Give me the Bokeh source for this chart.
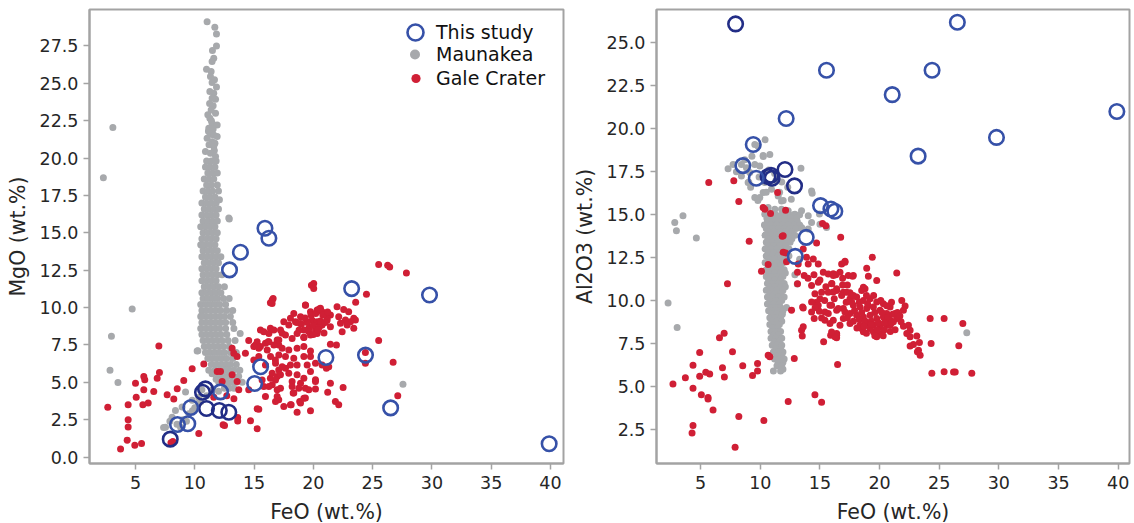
from bokeh.plotting import figure
from bokeh.layouts import row
from bokeh.models import (ColumnDataSource, Range1d, FixedTicker, PrintfTickFormatter,
                          Legend, LegendItem)
from bokeh.embed import file_html
from bokeh.resources import INLINE

# ---------------- data ----------------
x_ticks = [5, 10, 15, 20, 25, 30, 35, 40]
mgo_ticks = [0.0, 2.5, 5.0, 7.5, 10.0, 12.5, 15.0, 17.5, 20.0, 22.5, 25.0, 27.5]
al_ticks = [2.5, 5.0, 7.5, 10.0, 12.5, 15.0, 17.5, 20.0, 22.5, 25.0]

# This study: FeO, MgO, Al2O3 (wt.%) per sample
study_feo = [15.55, 7.93, 26.52, 24.40, 21.06, 39.89, 29.80, 23.23, 13.85, 12.93, 15.92,
             16.25, 15.05, 12.17, 12.07, 12.87, 10.90, 10.65, 10.99, 9.66, 8.54, 9.41]
study_mgo = [6.04, 1.20, 3.29, 6.82, 6.66, 0.89, 10.84, 11.27, 13.70, 12.52, 15.31,
             14.64, 4.92, 4.36, 3.12, 3.00, 4.56, 4.34, 3.25, 3.32, 2.18, 2.23]
study_al2o3 = [23.41, 26.11, 26.21, 23.41, 21.99, 21.01, 19.50, 18.41, 13.68, 12.57, 15.33,
               15.20, 15.53, 20.60, 17.63, 16.68, 17.30, 17.22, 17.12, 17.12, 17.86, 19.09]
study_tone = ["#3651a8", "#222d86", "#3651a8", "#3651a8", "#3651a8", "#3651a8", "#3651a8",
              "#3651a8", "#3651a8", "#3651a8", "#3651a8", "#3651a8", "#3651a8", "#3651a8",
              "#222d86", "#222d86", "#222d86", "#222d86", "#222d86", "#3651a8", "#3651a8",
              "#3651a8"]

# Maunakea: (FeO, MgO)
maunakea_feo_mgo = [
    (11.04, 29.12), (11.69, 28.75), (11.83, 28.3), (11.83, 27.5), (11.49, 27.2), (11.60, 26.68),
    (11.46, 26.46), (10.99, 25.95), (11.38, 25.8), (11.32, 25.46), (11.66, 25.24), (11.46, 25.05),
    (11.83, 24.75), (11.27, 24.45), (11.60, 24.34), (11.75, 23.94), (11.46, 24.0), (11.25, 23.65),
    (11.55, 23.5), (11.38, 23.22), (11.75, 23.0), (11.1, 22.9), (11.27, 22.66), (11.4, 22.5),
    (11.46, 22.33), (11.89, 22.22), (11.18, 22.0), (11.55, 21.95), (11.15, 21.8), (11.3, 21.6),
    (11.60, 21.55), (11.89, 21.44), (11.04, 21.33), (11.46, 21.1), (11.7, 21.0), (11.2, 20.9),
    (11.60, 20.77), (11.65, 20.5), (10.90, 20.44), (11.32, 20.33), (11.75, 20.1),
    (11.0, 19.8), (11.4, 19.8), (11.8, 19.8), (10.9, 19.4), (11.3, 19.4), (11.7, 19.4),
    (11.1, 19.0), (11.5, 19.0), (11.9, 19.0), (10.8, 18.6), (11.2, 18.6), (11.6, 18.6),
    (11.0, 18.2), (11.4, 18.2), (11.9, 18.2), (10.7, 17.8), (11.1, 17.8), (11.5, 17.8), (12.0, 17.8),
    (10.9, 17.4), (11.3, 17.4), (11.7, 17.4), (10.6, 17.0), (11.0, 17.0), (11.4, 17.0), (11.8, 17.0),
    (10.8, 16.6), (11.2, 16.6), (11.6, 16.6), (12.0, 16.6), (10.6, 16.2), (11.0, 16.2), (11.4, 16.2),
    (11.8, 16.2), (10.7, 15.8), (11.1, 15.8), (11.5, 15.8), (11.9, 15.8), (10.5, 15.4), (10.9, 15.4),
    (11.3, 15.4), (11.7, 15.4), (10.7, 15.0), (11.1, 15.0), (11.5, 15.0), (11.9, 15.0),
    (10.6, 14.6), (11.0, 14.6), (11.4, 14.6), (11.8, 14.6), (10.5, 14.2), (10.9, 14.2), (11.3, 14.2),
    (11.7, 14.2), (10.7, 13.8), (11.1, 13.8), (11.5, 13.8), (11.9, 13.8), (10.6, 13.4), (11.0, 13.4),
    (11.4, 13.4), (11.8, 13.4), (12.2, 13.4), (10.8, 13.0), (11.2, 13.0), (11.6, 13.0), (12.0, 13.0),
    (10.6, 12.6), (11.0, 12.6), (11.4, 12.6), (11.8, 12.6), (10.7, 12.2), (11.1, 12.2), (11.5, 12.2),
    (11.9, 12.2), (12.3, 12.2), (10.6, 11.8), (11.0, 11.8), (11.4, 11.8), (11.8, 11.8),
    (10.8, 11.4), (11.2, 11.4), (11.6, 11.4), (12.0, 11.4), (12.5, 11.4), (10.6, 11.0), (11.0, 11.0),
    (11.4, 11.0), (11.8, 11.0), (12.2, 11.0), (10.7, 10.6), (11.1, 10.6), (11.5, 10.6), (11.9, 10.6),
    (12.4, 10.6), (12.9, 10.6), (10.5, 10.2), (10.9, 10.2), (11.3, 10.2), (11.7, 10.2), (12.1, 10.2),
    (12.6, 10.2), (10.6, 9.8), (11.0, 9.8), (11.4, 9.8), (11.8, 9.8), (12.2, 9.8), (12.7, 9.8),
    (13.2, 9.8), (10.5, 9.4), (10.9, 9.4), (11.3, 9.4), (11.7, 9.4), (12.1, 9.4), (12.5, 9.4),
    (13.0, 9.4), (10.6, 9.0), (11.0, 9.0), (11.4, 9.0), (11.8, 9.0), (12.2, 9.0), (12.6, 9.0),
    (13.2, 9.0), (10.5, 8.6), (10.9, 8.6), (11.3, 8.6), (11.7, 8.6), (12.1, 8.6), (12.6, 8.6),
    (13.3, 8.6), (10.6, 8.2), (11.0, 8.2), (11.4, 8.2), (11.8, 8.2), (12.2, 8.2), (12.7, 8.2),
    (10.7, 7.8), (11.1, 7.8), (11.5, 7.8), (11.9, 7.8), (12.3, 7.8), (12.8, 7.8), (13.4, 7.8),
    (10.8, 7.4), (11.2, 7.4), (11.6, 7.4), (12.0, 7.4), (12.4, 7.4), (12.9, 7.4), (10.9, 7.0),
    (11.3, 7.0), (11.7, 7.0), (12.1, 7.0), (12.5, 7.0), (13.0, 7.0), (13.5, 7.0), (11.1, 6.6),
    (11.5, 6.6), (11.9, 6.6), (12.3, 6.6), (12.7, 6.6), (13.2, 6.6), (11.4, 6.2), (11.8, 6.2),
    (12.2, 6.2), (12.6, 6.2), (13.0, 6.2), (13.5, 6.2), (11.7, 5.8), (12.1, 5.8), (12.5, 5.8),
    (12.9, 5.8), (13.3, 5.8), (13.8, 5.8), (12.0, 5.4), (12.4, 5.4), (12.8, 5.4), (13.2, 5.4),
    (13.7, 5.4), (12.3, 5.0), (12.7, 5.0), (13.1, 5.0), (13.5, 5.0), (14.0, 5.0), (12.5, 4.6),
    (12.9, 4.6), (13.3, 4.6),
    (10.2, 7.1), (11.18, 5.8), (9.22, 4.35), (8.37, 3.12), (7.53, 2.0), (8.09, 2.67), (8.93, 3.35),
    (9.78, 3.8), (10.34, 4.0), (11.46, 5.58), (12.59, 5.8), (12.02, 5.0), (13.83, 8.27), (7.37, 1.97),
    (9.0, 2.5), (9.5, 2.9), (10.0, 3.3), (10.5, 3.7), (11.0, 4.1), (11.5, 4.5), (12.0, 4.4), (8.5, 2.2),
    (9.8, 3.1), (10.6, 4.5), (11.8, 5.2), (8.8, 2.0), (9.3, 2.4), (10.3, 3.6), (7.9, 2.4),
    (2.29, 18.69), (3.09, 22.04), (4.72, 9.90), (2.97, 8.09), (2.85, 5.81), (3.52, 4.99), (27.56, 4.87),
    (12.91, 15.92), (10.60, 14.15), (10.57, 9.46), (10.26, 7.11), (12.08, 17.21), (12.87, 16.0),
]

# Gale Crater: (FeO, MgO)
gale_feo_mgo = [
    (6.97, 7.43), (2.66, 3.34), (3.74, 0.54), (4.30, 1.12), (4.94, 0.79), (5.51, 0.9), (4.38, 2.5),
    (4.38, 2.01), (4.38, 3.5), (5.06, 4.01), (5.0, 4.94), (5.70, 5.39), (5.78, 5.17), (5.70, 4.5),
    (5.62, 3.5), (6.07, 3.61), (6.54, 4.39), (6.83, 5.28), (7.02, 5.66), (7.67, 4.17), (8.23, 3.88),
    (8.52, 4.57), (9.07, 5.12), (9.78, 5.9), (10.76, 6.23), (8.15, 1.05), (10.34, 1.57), (12.39, 2.17),
    (14.70, 2.43), (15.26, 1.9), (15.26, 3.23), (15.96, 4.05), (15.82, 4.72), (14.55, 4.5),
    (13.71, 4.5), (13.57, 5.05), (13.15, 5.5), (12.17, 5.72), (11.89, 5.72), (12.31, 5.05),
    (13.57, 6.72), (14.27, 6.94), (14.55, 7.79), (15.12, 7.5), (15.40, 7.28), (15.96, 7.61),
    (16.19, 7.72), (16.53, 10.5), (16.38, 10.32), (16.38, 8.61), (16.95, 7.83), (17.08, 7.5),
    (17.37, 8.28), (16.80, 6.5), (17.08, 5.83), (16.95, 5.39), (16.38, 5.28), (16.53, 4.83),
    (16.95, 4.5), (17.08, 3.83), (17.65, 5.95), (15.54, 8.5), (13.15, 7.28), (13.29, 6.94),
    (13.62, 2.64), (13.62, 2.41), (12.51, 2.12), (7.99, 0.96), (15.4, 3.2), (12.7, 4.1),
    (13.3, 3.9), (11.6, 4.0),
    (25.51, 12.88), (26.27, 12.83), (26.44, 12.72), (27.85, 12.32), (20.03, 11.61), (19.84, 11.5),
    (20.03, 11.28), (24.48, 10.9), (23.57, 10.35), (16.61, 10.61), (16.52, 10.28), (19.33, 10.17),
    (20.60, 9.95), (20.74, 9.72), (22.0, 10.05), (22.56, 9.88), (22.98, 9.72), (23.41, 9.28),
    (23.55, 9.17), (23.13, 9.05), (22.71, 9.17), (22.29, 8.95), (22.43, 8.39), (23.41, 8.61),
    (22.85, 8.83), (22.14, 9.39), (21.44, 9.5), (21.16, 9.28), (25.51, 7.79), (26.73, 6.35),
    (27.12, 4.1), (24.39, 6.99), (24.39, 6.28), (21.44, 7.54), (21.95, 7.5), (21.1, 5.95),
    (21.3, 6.05), (21.44, 4.94), (21.21, 4.34), (22.51, 4.66), (21.86, 3.72), (22.14, 3.5),
    (19.76, 3.1), (18.63, 2.99), (18.13, 3.5), (19.33, 3.95), (18.85, 3.72), (18.3, 4.28),
    (20.18, 4.55), (19.33, 4.61), (20.18, 5.17),
    (19.34, 10.16), (18.35, 9.61), (18.92, 9.39), (19.76, 9.72), (20.32, 9.83), (18.07, 9.28),
    (17.51, 9.05), (17.93, 8.83), (18.49, 9.05), (18.92, 8.94), (19.48, 9.05), (19.90, 9.16),
    (20.32, 9.05), (20.74, 8.83), (21.16, 9.16), (21.44, 8.72), (20.18, 8.5), (19.62, 8.61),
    (19.20, 8.5), (15.82, 8.39), (16.25, 8.27), (16.67, 8.5), (17.23, 8.5), (17.65, 8.16),
    (18.21, 7.94), (18.63, 8.27), (19.20, 8.01), (19.76, 8.16), (20.32, 8.27), (17.09, 7.83),
    (16.25, 7.72), (15.26, 7.72), (14.98, 7.39), (15.54, 7.39), (16.11, 7.16), (16.67, 7.5),
    (17.37, 7.28), (17.93, 7.16), (18.63, 7.28), (19.20, 7.39), (19.76, 7.1), (15.40, 6.72),
    (16.39, 6.72), (17.09, 6.83), (17.65, 6.72), (18.35, 6.61), (19.20, 6.72), (19.76, 6.72),
    (14.98, 6.5), (15.96, 6.16), (16.81, 6.27), (17.37, 6.05), (18.07, 6.16), (18.63, 6.16),
    (19.48, 6.16), (20.18, 6.27), (20.74, 6.16), (16.53, 5.61), (17.23, 5.5), (17.93, 5.61),
    (18.63, 5.5), (19.20, 5.27), (19.76, 5.72), (20.18, 5.05), (15.68, 5.16), (16.81, 5.16),
    (18.21, 5.05), (18.92, 4.94), (16.25, 4.72), (17.23, 4.61), (18.21, 4.72), (18.77, 4.61),
    (19.62, 4.5), (16.95, 4.05), (18.35, 4.28), (19.20, 3.94), (16.81, 3.72), (18.07, 3.5),
    (18.92, 3.61), (17.51, 3.39),
    (19.0, 8.9), (19.5, 9.0), (20.0, 8.8), (20.5, 8.7), (19.8, 9.5), (20.2, 9.6), (20.8, 9.5),
    (19.3, 9.3), (20.6, 9.1), (21.0, 9.0), (18.8, 8.5), (19.6, 8.4), (20.0, 8.2), (20.4, 8.5),
    (20.9, 8.3), (19.2, 8.0), (20.5, 9.9), (21.2, 9.7), (18.6, 9.0),
]

# Maunakea: (FeO, Al2O3)
maunakea_feo_al2o3 = [
    (9.54, 19.09), (10.24, 18.45), (10.40, 19.36), (10.25, 18.39), (7.30, 17.68), (7.72, 17.93),
    (8.42, 17.93), (8.84, 17.73), (9.54, 17.93), (9.96, 17.83), (9.12, 17.45), (8.42, 17.25),
    (8.98, 16.87), (10.38, 16.87), (10.94, 16.48), (11.50, 16.09), (11.78, 15.8), (10.24, 16.29),
    (9.54, 16.0), (9.96, 16.0), (10.66, 15.42), (10.38, 15.03), (11.22, 15.32), (11.78, 15.32),
    (12.34, 15.23), (12.90, 15.03), (13.46, 15.23), (14.02, 14.94), (14.30, 14.55), (13.46, 14.26),
    (14.02, 14.16), (14.30, 16.38), (15.0, 14.45), (15.56, 14.26), (13.41, 17.70), (9.19, 16.6),
    (9.04, 16.89), (9.8, 15.82), (11.31, 16.99), (11.62, 16.31), (11.92, 15.82), (14.35, 16.25),
    (14.96, 15.04), (8.7, 18.2), (9.3, 18.4), (10.7, 17.6), (11.2, 17.4), (11.8, 16.9), (12.3, 16.6),
    (8.0, 17.5), (9.9, 17.2), (10.5, 16.3), (12.6, 15.9), (9.8, 19.0), (10.8, 18.5),
    (10.8, 15.0), (11.3, 15.0), (11.8, 15.0), (12.3, 15.0), (12.8, 15.0), (13.3, 15.0),
    (10.55, 14.8), (11.05, 14.8), (11.55, 14.8), (12.05, 14.8), (12.55, 14.8), (13.05, 14.8),
    (10.6, 14.6), (11.1, 14.6), (11.6, 14.6), (12.1, 14.6), (12.6, 14.6), (13.1, 14.6),
    (10.35, 14.4), (10.85, 14.4), (11.35, 14.4), (11.85, 14.4), (12.35, 14.4), (12.85, 14.4),
    (13.3, 14.4),
    (10.5, 14.2), (11.0, 14.2), (11.5, 14.2), (12.0, 14.2), (12.5, 14.2), (13.0, 14.2), (13.5, 14.2),
    (10.65, 14.0), (11.15, 14.0), (11.65, 14.0), (12.15, 14.0), (12.65, 14.0),
    (10.4, 13.8), (10.9, 13.8), (11.4, 13.8), (11.9, 13.8), (12.4, 13.8), (12.9, 13.8),
    (10.65, 13.6), (11.15, 13.6), (11.65, 13.6), (12.15, 13.6), (12.65, 13.6),
    (10.5, 13.4), (11.0, 13.4), (11.5, 13.4), (12.0, 13.4), (12.5, 13.4),
    (10.65, 13.2), (11.15, 13.2), (11.65, 13.2), (12.15, 13.2),
    (10.4, 13.0), (10.9, 13.0), (11.4, 13.0), (11.9, 13.0), (12.4, 13.0),
    (10.65, 12.8), (11.15, 12.8), (11.65, 12.8), (12.15, 12.8),
    (10.5, 12.6), (11.0, 12.6), (11.5, 12.6), (12.0, 12.6), (12.4, 12.6),
    (10.7, 12.4), (11.2, 12.4), (11.7, 12.4), (12.15, 12.4),
    (10.4, 12.2), (10.9, 12.2), (11.4, 12.2), (11.9, 12.2),
    (10.7, 12.0), (11.2, 12.0), (11.7, 12.0),
    (10.5, 11.8), (11.0, 11.8), (11.5, 11.8), (12.0, 11.8),
    (10.7, 11.6), (11.2, 11.6), (11.7, 11.6), (12.1, 11.6),
    (10.5, 11.4), (10.9, 11.4), (11.4, 11.4), (11.9, 11.4),
    (10.7, 11.2), (11.2, 11.2), (11.7, 11.2),
    (10.6, 11.0), (11.0, 11.0), (11.5, 11.0), (12.0, 11.0),
    (10.8, 10.8), (11.2, 10.8), (11.7, 10.8), (12.1, 10.8),
    (10.5, 10.6), (11.0, 10.6), (11.4, 10.6), (11.9, 10.6),
    (10.8, 10.4), (11.25, 10.4), (11.75, 10.4),
    (10.6, 10.2), (11.0, 10.2), (11.5, 10.2), (12.0, 10.2),
    (10.8, 10.0), (11.3, 10.0), (11.8, 10.0),
    (10.6, 9.8), (11.1, 9.8), (11.6, 9.8),
    (10.9, 9.6), (11.3, 9.6), (11.7, 9.6),
    (10.7, 9.4), (11.1, 9.4), (11.5, 9.4), (11.9, 9.4),
    (10.95, 9.2), (11.4, 9.2), (11.85, 9.2),
    (10.8, 9.0), (11.2, 9.0), (11.7, 9.0),
    (11.0, 8.8), (11.4, 8.8), (11.8, 8.8),
    (10.8, 8.6), (11.2, 8.6), (11.6, 8.6),
    (11.05, 8.4), (11.45, 8.4),
    (10.9, 8.2), (11.3, 8.2), (11.7, 8.2),
    (11.1, 8.0), (11.5, 8.0),
    (10.9, 7.8), (11.3, 7.8), (11.8, 7.8),
    (11.2, 7.6), (11.6, 7.6),
    (11.0, 7.4), (11.4, 7.4), (11.8, 7.4),
    (11.3, 7.2), (11.7, 7.2),
    (11.1, 7.0), (11.5, 7.0), (11.9, 7.0),
    (11.4, 6.8), (11.8, 6.8),
    (11.2, 6.6), (11.6, 6.6), (12.0, 6.6),
    (11.5, 6.4), (11.9, 6.4),
    (11.4, 6.2), (11.8, 6.2), (11.9, 6.0), (11.1, 5.9), (11.7, 5.9),
    (13.1, 10.96), (12.2, 9.6), (12.9, 11.5), (13.3, 12.4),
    (3.52, 14.94), (2.83, 14.55), (2.97, 14.07), (4.64, 13.64), (2.27, 9.86), (3.03, 8.43),
    (27.31, 8.12),
]

# Gale Crater: (FeO, Al2O3)
gale_feo_al2o3 = [
    (12.62, 9.43), (13.60, 9.57), (14.66, 9.88), (14.30, 9.33), (14.52, 8.95), (14.95, 9.37),
    (15.14, 8.99), (15.42, 8.85), (15.70, 9.24), (13.46, 8.27), (13.60, 8.47), (13.52, 7.94),
    (15.31, 7.60), (15.90, 7.98), (16.40, 8.08), (16.40, 7.83), (12.85, 6.63), (16.48, 6.28),
    (10.66, 6.82), (10.80, 6.73), (9.77, 6.34), (9.77, 5.90), (9.35, 5.63), (8.53, 6.21),
    (7.67, 7.02), (6.97, 8.10), (6.58, 7.83), (6.83, 6.09), (6.99, 5.55), (4.92, 6.98), (4.36, 6.23),
    (4.92, 5.59), (5.43, 5.82), (5.76, 5.72), (3.72, 5.51), (2.68, 5.14), (4.36, 4.89), (5.06, 4.51),
    (5.62, 4.35), (5.62, 4.26), (6.04, 3.62), (8.20, 3.25), (10.30, 3.02), (12.34, 4.12),
    (14.58, 4.51), (15.14, 4.08), (4.36, 2.73), (4.28, 2.29), (7.89, 1.45),
    (16.74, 13.68), (19.39, 12.52), (17.10, 12.29), (16.82, 12.13), (18.92, 11.88), (21.44, 11.61),
    (17.74, 11.42), (16.90, 11.30), (19.06, 11.42), (19.76, 11.17), (16.12, 11.56), (16.34, 11.50),
    (18.64, 10.78), (18.50, 10.59), (18.78, 10.69), (16.40, 10.59), (16.96, 10.49), (17.52, 10.45),
    (15.98, 10.98), (21.86, 10.01), (22.14, 9.68), (22.0, 9.43), (15.84, 9.72), (16.40, 9.43),
    (16.96, 9.53), (21.80, 8.76), (22.42, 8.56), (22.56, 8.27), (22.28, 8.08), (22.56, 7.89),
    (23.12, 7.94), (23.34, 7.56), (22.84, 7.44), (22.56, 7.35), (23.26, 7.11), (23.40, 6.82),
    (23.17, 7.02), (24.24, 8.95), (25.41, 8.95), (26.98, 8.66), (24.32, 7.5), (26.64, 7.37),
    (24.38, 5.76), (25.41, 5.86), (26.20, 5.84), (26.34, 5.84), (27.73, 5.76), (16.12, 8.85),
    (15.84, 8.66), (16.40, 7.98), (16.26, 7.89), (15.98, 8.17),
    (17.52, 10.11), (18.08, 10.20), (18.64, 10.01), (19.20, 10.11), (19.76, 9.92), (20.32, 9.82),
    (20.88, 9.62), (21.30, 9.24), (17.80, 9.72), (18.36, 9.62), (18.92, 9.53), (19.48, 9.62),
    (20.04, 9.43), (20.60, 9.24), (17.52, 9.24), (18.08, 9.14), (18.64, 9.04), (19.20, 9.14),
    (19.76, 8.95), (20.32, 9.04), (20.88, 8.85), (21.44, 8.95), (18.36, 8.56), (18.92, 8.66),
    (19.48, 8.56), (20.04, 8.47), (20.60, 8.56), (18.64, 8.18), (19.48, 8.18), (20.04, 8.08),
    (17.52, 8.66), (16.96, 8.95), (16.68, 8.56), (19.20, 8.37), (20.88, 8.56), (21.16, 8.76),
    (19.76, 7.89), (18.50, 8.37),
    (17.2, 9.9), (17.8, 10.3), (18.3, 9.9), (18.9, 10.3), (19.5, 10.3), (20.1, 10.0), (20.6, 9.7),
    (21.0, 9.9), (17.3, 9.0), (17.9, 9.4), (18.5, 9.3), (19.0, 9.8), (19.6, 9.3), (20.2, 9.3),
    (20.7, 9.0), (21.1, 9.2), (17.8, 8.8), (18.3, 8.9), (18.8, 8.8), (19.3, 8.8), (19.9, 8.7),
    (20.4, 8.7), (21.0, 8.7), (21.5, 9.3), (18.1, 8.4), (18.7, 8.5), (19.3, 8.6), (19.8, 8.3),
    (20.4, 8.3), (20.9, 8.2), (18.9, 8.1), (19.6, 7.95), (20.3, 7.95), (21.3, 8.3), (22.0, 8.5),
    (21.7, 9.1),
    (5.68, 16.87), (7.78, 16.98), (8.20, 15.77), (11.45, 16.29), (10.24, 15.42), (10.38, 15.32),
    (10.86, 15.07), (12.12, 15.26), (9.07, 13.45), (11.84, 13.74), (11.92, 13.78), (11.92, 12.81),
    (13.60, 13.0), (14.72, 13.35), (15.22, 14.49), (10.66, 12.10), (10.10, 11.71), (7.25, 10.98),
    (13.18, 12.13), (13.88, 12.52), (14.02, 12.13), (13.12, 11.65), (13.12, 10.98), (13.68, 11.46),
    (13.55, 9.62), (14.44, 12.42), (14.86, 12.13), (15.28, 11.65), (15.70, 11.55), (16.12, 11.46),
    (16.68, 11.65), (17.10, 12.23), (17.38, 11.46), (17.80, 11.46), (14.30, 10.88), (14.86, 11.07),
    (15.14, 10.49), (15.70, 10.49), (14.58, 10.40), (16.40, 10.69), (16.82, 10.30), (17.24, 10.49),
    (14.30, 9.91), (14.86, 9.72), (15.42, 9.33), (15.98, 9.72), (16.54, 9.53), (17.10, 9.33),
    (17.66, 9.91), (15.5, 14.36), (12.13, 12.77), (12.2, 12.26),
    (14.0, 11.3), (14.5, 11.5), (15.0, 11.2), (15.5, 10.8), (16.0, 11.0), (15.0, 10.1),
    (15.4, 10.0), (16.2, 10.1), (14.6, 9.6), (16.9, 10.9), (17.3, 10.9), (16.1, 10.5),
]

# ---------------- styling ----------------
GREY = "#a7a9ac"
RED = "#d01f35"
FRAME = "#a3a3a3"
TEXT = "#262626"
FONT = "DejaVu Sans"


def make_panel(x_rng, y_rng, y_ticks, y_label, left, right, fwidth):
    p = figure(frame_width=fwidth, frame_height=454,
               x_range=Range1d(*x_rng), y_range=Range1d(*y_rng),
               min_border_left=left, min_border_right=right,
               min_border_top=9, min_border_bottom=60,
               output_backend="svg", toolbar_location=None,
               background_fill_color="white", border_fill_color="white")
    p.xgrid.visible = False
    p.ygrid.visible = False
    p.outline_line_color = FRAME
    p.outline_line_width = 2
    p.xaxis.ticker = FixedTicker(ticks=x_ticks)
    p.yaxis.ticker = FixedTicker(ticks=y_ticks)
    p.yaxis.formatter = PrintfTickFormatter(format="%.1f")
    for ax in (p.xaxis, p.yaxis):
        ax.axis_line_color = FRAME
        ax.axis_line_width = 2
        ax.major_tick_line_color = FRAME
        ax.major_tick_line_width = 1.5
        ax.major_tick_in = 0
        ax.major_tick_out = 6
        ax.minor_tick_line_color = None
        ax.major_label_text_font = FONT
        ax.major_label_text_font_size = "17.5px"
        ax.major_label_text_color = TEXT
        ax.axis_label_text_font = FONT
        ax.axis_label_text_font_size = "20.5px"
        ax.axis_label_text_font_style = "normal"
        ax.axis_label_text_color = TEXT
    p.xaxis.axis_label = "FeO (wt.%)"
    p.yaxis.axis_label = y_label
    p.xaxis.major_label_standoff = 6
    p.xaxis.axis_label_standoff = 8
    p.yaxis.major_label_standoff = 5
    p.yaxis.axis_label_standoff = 7
    return p


def draw_points(p, grey_pts, red_pts, study_y):
    g = ColumnDataSource(dict(x=[a for a, _ in grey_pts], y=[b for _, b in grey_pts]))
    r = ColumnDataSource(dict(x=[a for a, _ in red_pts], y=[b for _, b in red_pts]))
    s = ColumnDataSource(dict(x=study_feo, y=study_y, c=study_tone))
    rg = p.scatter("x", "y", source=g, size=7, fill_color=GREY, line_color=None)
    rr = p.scatter("x", "y", source=r, size=7, fill_color=RED, line_color=None)
    rs = p.scatter("x", "y", source=s, size=14.5, fill_color=None, line_color="c",
                   line_width=2.6)
    return rs, rg, rr


p1 = make_panel((1.12, 41.1), (-0.43, 29.94), mgo_ticks, "MgO (wt.%)", 89, 5, 474)
rs1, rg1, rr1 = draw_points(p1, maunakea_feo_mgo, gale_feo_mgo, study_mgo)

p2 = make_panel((1.3, 40.95), (0.51, 26.95), al_ticks, "Al2O3 (wt.%)", 88, 5, 473)
draw_points(p2, maunakea_feo_al2o3, gale_feo_al2o3, study_al2o3)

# legend: one entry per box so each swatch keeps its own marker size
entries = [("This study", rs1, 40, 40, 1, (306, 411)),
           ("Maunakea", rg1, 25, 30, 9, (313, 394)),
           ("Gale Crater", rr1, 23, 30, 9, (315, 370))]
for label, rend, gw, gh, standoff, loc in entries:
    leg = Legend(items=[LegendItem(label=label, renderers=[rend])], location=loc,
                 glyph_width=gw, glyph_height=gh, label_standoff=standoff,
                 padding=0, margin=0, spacing=0, border_line_color=None,
                 background_fill_alpha=0, label_text_font=FONT,
                 label_text_font_size="19px", label_text_color="#111111")
    p1.add_layout(leg)

layout = row(p1, p2)
open("out.html", "w").write(file_html(layout, INLINE, "FeO vs MgO and Al2O3"))
